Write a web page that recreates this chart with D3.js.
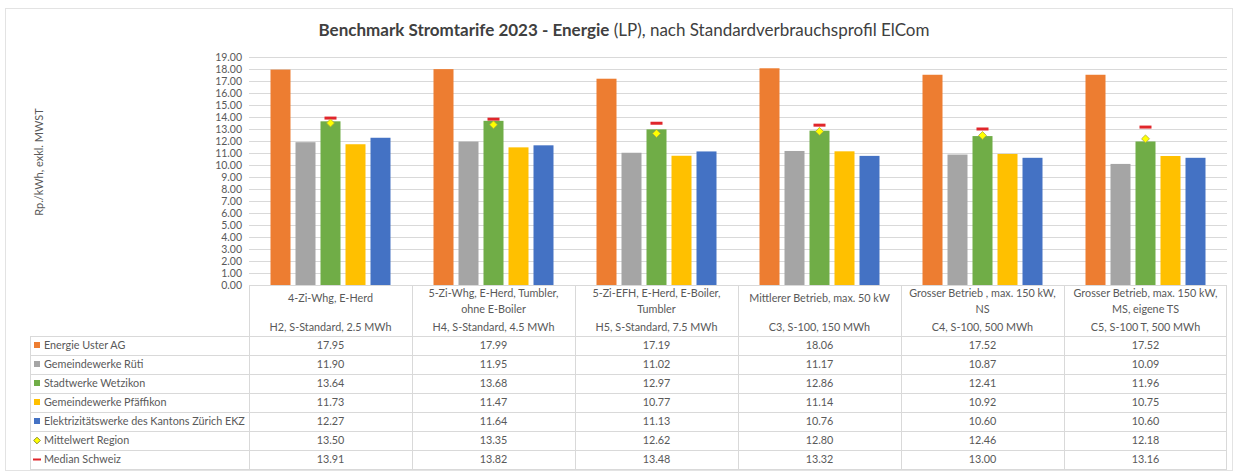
<!DOCTYPE html>
<html><head><meta charset="utf-8">
<script src="https://cdn.jsdelivr.net/npm/d3@7"></script>
<style>
html,body{margin:0;padding:0;background:#fff;}
svg{display:block;font-family:Lato,"Open Sans",sans-serif;}
</style></head>
<body><svg id="chart" width="1239" height="473"></svg>
<script>
const categories = ["c1","c2","c3","c4","c5","c6"];
const categoryNames = [
  ["4-Zi-Whg, E-Herd"],
  ["5-Zi-Whg, E-Herd, Tumbler,","ohne E-Boiler"],
  ["5-Zi-EFH, E-Herd, E-Boiler,","Tumbler"],
  ["Mittlerer Betrieb, max. 50 kW"],
  ["Grosser Betrieb , max. 150 kW,","NS"],
  ["Grosser Betrieb, max. 150 kW,","MS, eigene TS"]
];
const categoryCodes = ["H2, S-Standard, 2.5 MWh","H4, S-Standard, 4.5 MWh","H5, S-Standard, 7.5 MWh","C3, S-100, 150 MWh","C4, S-100, 500 MWh","C5, S-100 T, 500 MWh"];
const seriesNames = ["Energie Uster AG","Gemeindewerke Rüti","Stadtwerke Wetzikon","Gemeindewerke Pfäffikon","Elektrizitätswerke des Kantons Zürich EKZ"];
const energieUster = [17.95,17.99,17.19,18.06,17.52,17.52];
const gemeindewerkeRueti = [11.90,11.95,11.02,11.17,10.87,10.09];
const stadtwerkeWetzikon = [13.64,13.68,12.97,12.86,12.41,11.96];
const gemeindewerkePfaeffikon = [11.73,11.47,10.77,11.14,10.92,10.75];
const ekz = [12.27,11.64,11.13,10.76,10.60,10.60];
const mittelwertRegion = [13.50,13.35,12.62,12.80,12.46,12.18];
const medianSchweiz = [13.91,13.82,13.48,13.32,13.00,13.16];
const yTicks = d3.range(0,20,1);
const seriesValues = [energieUster,gemeindewerkeRueti,stadtwerkeWetzikon,gemeindewerkePfaeffikon,ekz];
const colors = ["#ED7D31","#A5A5A5","#70AD47","#FFC000","#4472C4"];

const svg = d3.select("#chart");
const txt = "#595959", grid = "#d9d9d9";

// outer frame
svg.append("rect").attr("x",5.5).attr("y",8.5).attr("width",1227).attr("height",462)
  .attr("fill","#fff").attr("stroke","#e3e3e3");

// title
const title = svg.append("text").attr("x",624).attr("y",36).attr("text-anchor","middle")
  .attr("font-size",17).attr("fill","#404040");
title.append("tspan").attr("font-weight","bold").text("Benchmark Stromtarife 2023 - Energie");
title.append("tspan").text(" (LP), nach Standardverbrauchsprofil  ElCom");

const x = d3.scaleBand().domain(categories).range([249,1227]).padding(0);
const y = d3.scaleLinear().domain([0,19]).range([285,57]);
const xs = d3.scaleBand().domain(seriesNames).range([x.bandwidth()/2-60, x.bandwidth()/2+60]).paddingInner(0.2);

// gridlines
svg.append("g").selectAll("line").data(yTicks).join("line")
  .attr("x1",249).attr("x2",1227).attr("y1",d=>Math.round(y(d))+0.5).attr("y2",d=>Math.round(y(d))+0.5)
  .attr("stroke",grid).attr("stroke-width",1);

// y axis
const yAxis = svg.append("g").attr("transform","translate(244,0)")
  .call(d3.axisLeft(y).tickValues(yTicks).tickFormat(d3.format(".2f")).tickSize(0).tickPadding(2));
yAxis.select(".domain").remove();
yAxis.selectAll("text").attr("fill",txt).attr("font-size",10.5).attr("font-family","Lato, sans-serif");

svg.append("text").attr("transform","translate(43,162) rotate(-90)").attr("text-anchor","middle")
  .attr("font-size",11).attr("fill",txt).text("Rp./kWh, exkl. MWST");

// bars
const groups = svg.append("g").selectAll("g").data(categories).join("g")
  .attr("transform",d=>`translate(${x(d)},0)`);
seriesNames.forEach((s,si)=>{
  groups.append("rect")
    .attr("x",xs(s)).attr("width",xs.bandwidth())
    .attr("y",(d,i)=>y(seriesValues[si][i])).attr("height",(d,i)=>y(0)-y(seriesValues[si][i]))
    .attr("fill",colors[si]);
});
// median markers
const cx = xs(seriesNames[2]) + xs.bandwidth()/2;
groups.append("rect").attr("x",cx-6).attr("width",12).attr("height",3)
  .attr("y",(d,i)=>y(medianSchweiz[i])-1.5).attr("fill","#E0262B");
// mittelwert markers
groups.append("path").attr("d",d3.symbol().type(d3.symbolDiamond2).size(40))
  .attr("transform",(d,i)=>`translate(${cx},${y(mittelwertRegion[i])})`)
  .attr("fill","#FFFF00").attr("stroke","#A8A840").attr("stroke-width",0.8);

// table
const tableTop = 285, headerBottom = 336, rowH = 19;
const rowLabels = seriesNames.concat(["Mittelwert Region","Median Schweiz"]);
const rowData = seriesValues.concat([mittelwertRegion, medianSchweiz]);
const tableBottom = headerBottom + rowH*rowLabels.length;
const tg = svg.append("g");
const line = (x1,y1,x2,y2)=>tg.append("line").attr("x1",x1).attr("y1",y1).attr("x2",x2).attr("y2",y2)
  .attr("stroke",grid).attr("stroke-width",1);
line(249,tableTop+0.5,1227,tableTop+0.5);
for(let r=0;r<=rowLabels.length;r++){ const yy=headerBottom+r*rowH+0.5; line(30,yy,1227,yy); }
categories.forEach((c,i)=>{ const xx=Math.round(x(c))+0.5; line(xx,tableTop,xx,tableBottom); });
line(1226.5,tableTop,1226.5,tableBottom);
line(30.5,headerBottom,30.5,tableBottom);

// header text
const fs = 10.8;
categories.forEach((c,i)=>{
  const cxx = x(c)+x.bandwidth()/2;
  const names = categoryNames[i];
  const ys = names.length===1 ? [302] : [297,313];
  names.forEach((n,j)=>{
    tg.append("text").attr("x",cxx).attr("y",ys[j]).attr("text-anchor","middle")
      .attr("font-size",fs).attr("fill",txt).text(n);
  });
  tg.append("text").attr("x",cxx).attr("y",331).attr("text-anchor","middle")
    .attr("font-size",fs).attr("fill",txt).text(categoryCodes[i]);
});

// rows
rowLabels.forEach((lab,r)=>{
  const yc = headerBottom + r*rowH + rowH/2;
  if(r<5){
    tg.append("rect").attr("x",34).attr("y",yc-3.5).attr("width",6).attr("height",6).attr("fill",colors[r]);
  } else if(r===5){
    tg.append("path").attr("d",d3.symbol().type(d3.symbolDiamond2).size(28))
      .attr("transform",`translate(37,${yc})`).attr("fill","#FFFF00").attr("stroke","#8C8C30").attr("stroke-width",1);
  } else {
    tg.append("rect").attr("x",33).attr("y",yc-1).attr("width",8).attr("height",2).attr("fill","#E0262B");
  }
  tg.append("text").attr("x",44).attr("y",yc+3.8).attr("font-size",fs).attr("fill",txt).text(lab);
  categories.forEach((c,i)=>{
    tg.append("text").attr("x",x(c)+x.bandwidth()/2).attr("y",yc+3.8).attr("text-anchor","middle")
      .attr("font-size",fs).attr("fill",txt).text(d3.format(".2f")(rowData[r][i]));
  });
});
</script></body></html>
